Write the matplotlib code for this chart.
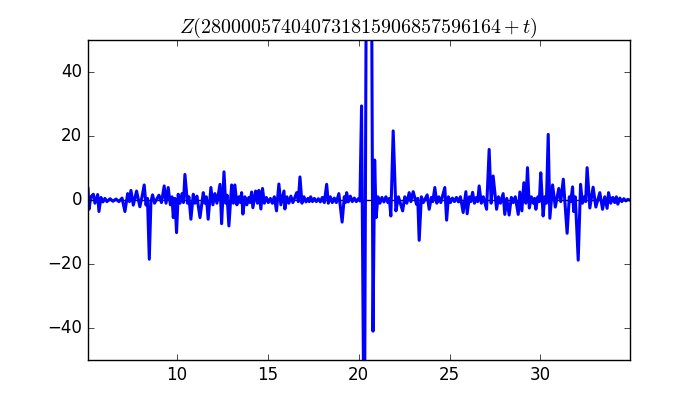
import matplotlib
matplotlib.use('Agg')
import matplotlib.pyplot as plt

plt.style.use('classic')

# Values (t, Z(T + t)), peaks and troughs in order
t_vals = [
    5.11, 5.16, 5.27, 5.40, 5.49, 5.64, 5.71, 5.82, 5.93, 6.04,
    6.15, 6.32, 6.48, 6.65, 6.81, 6.98, 7.14, 7.29, 7.39, 7.47,
    7.60, 7.78, 7.96, 8.08, 8.20, 8.30, 8.38, 8.48, 8.57, 8.66,
    8.77, 9.01, 9.15, 9.30, 9.40, 9.52, 9.64, 9.73, 9.80, 9.89,
    9.98, 10.07, 10.17, 10.28, 10.36, 10.44, 10.58, 10.66, 10.77, 10.90,
    10.99, 11.10, 11.27, 11.45, 11.54, 11.62, 11.72, 11.87, 11.98, 12.09,
    12.20, 12.37, 12.46, 12.59, 12.68, 12.76, 12.86, 13.01, 13.11, 13.19,
    13.30, 13.41, 13.49, 13.56, 13.63, 13.74, 13.85, 13.96, 14.03, 14.11,
    14.18, 14.33, 14.43, 14.51, 14.62, 14.71, 14.81, 14.92, 15.03, 15.14,
    15.25, 15.36, 15.48, 15.61, 15.72, 15.89, 15.94, 16.05, 16.16, 16.27,
    16.38, 16.59, 16.68, 16.77, 16.88, 16.99, 17.10, 17.21, 17.28, 17.36,
    17.46, 17.56, 17.67, 17.78, 17.89, 18.00, 18.11, 18.24, 18.33, 18.44,
    18.55, 18.66, 18.77, 18.91, 19.09, 19.21, 19.27, 19.34, 19.43, 19.54,
    19.65, 19.76, 19.87, 19.98, 20.07, 20.16, 20.31, 20.56, 20.79, 20.88,
    20.96, 21.06, 21.17, 21.28, 21.39, 21.50, 21.61, 21.69, 21.77, 21.90,
    22.05, 22.19, 22.42, 22.54, 22.65, 22.78, 22.87, 23.00, 23.19, 23.25,
    23.33, 23.45, 23.56, 23.77, 23.88, 24.00, 24.08, 24.19, 24.30, 24.41,
    24.52, 24.74, 24.84, 24.94, 25.05, 25.16, 25.27, 25.38, 25.49, 25.60,
    25.75, 25.90, 25.97, 26.09, 26.17, 26.27, 26.37, 26.48, 26.55, 26.63,
    26.75, 26.86, 27.04, 27.18, 27.29, 27.40, 27.59, 27.69, 27.80, 27.95,
    28.04, 28.15, 28.28, 28.40, 28.51, 28.62, 28.78, 28.87, 28.98, 29.09,
    29.20, 29.29, 29.39, 29.50, 29.61, 29.68, 29.75, 29.86, 29.94, 30.02,
    30.15, 30.24, 30.33, 30.43, 30.52, 30.67, 30.82, 31.01, 31.12, 31.26,
    31.47, 31.59, 31.67, 31.77, 31.83, 31.92, 32.08, 32.21, 32.31, 32.42,
    32.49, 32.57, 32.72, 32.90, 33.05, 33.27, 33.42, 33.54, 33.67, 33.75,
    33.87, 33.98, 34.09, 34.18, 34.26, 34.37, 34.48, 34.59, 34.70, 34.81,
    34.95,
]
z_vals = [
    3.5, -2.9, 1.0, 1.8, -1.0, 1.7, -3.6, 0.8, -0.6, 0.5,
    -0.5, 0.4, -0.4, 0.3, -0.5, 0.6, -3.6, 2.0, -0.5, 3.0,
    -1.6, 2.8, -2.1, 1.0, 4.7, -1.6, 0.5, -18.5, -0.5, 1.6,
    -1.0, 1.5, -0.8, 4.4, -1.0, 3.9, -1.5, 1.0, -5.5, 0.5,
    -10.2, 1.8, -1.0, 2.0, -0.8, 8.0, -1.0, 1.0, -6.0, 1.8,
    -1.0, 1.2, -5.5, 2.3, -1.0, 1.0, -6.0, 3.9, -1.5, 2.0,
    -1.0, 4.9, -7.4, 8.8, -1.0, 1.5, -8.1, 4.7, -1.0, 4.7,
    -1.5, 1.0, -0.8, 2.3, -4.4, 1.0, -1.5, 0.8, -0.8, 2.5,
    -2.4, 2.8, -1.0, 3.0, -2.8, 3.6, -1.0, 0.8, -0.8, 0.5,
    -1.0, 1.0, -3.4, 5.0, -1.5, 2.8, -2.8, 1.0, -1.0, 1.2,
    -0.8, 2.3, -0.5, 7.2, -1.0, 1.0, -0.6, 0.5, -0.5, 1.0,
    -0.5, 0.5, -0.5, 0.4, -0.6, 0.8, -0.8, 4.9, -1.0, 1.0,
    -0.8, 0.6, -0.8, 2.0, -6.9, 1.0, -0.8, 2.3, -0.6, 1.2,
    -0.5, 0.6, -0.5, 0.4, -0.3, 29.4, -90.0, 280.0, -41.0, 12.5,
    -5.5, 1.0, -1.0, 0.8, -0.6, 1.0, -0.8, 0.5, -5.0, 21.6,
    -3.4, 1.0, -3.4, 1.0, -1.0, 2.3, -0.5, 2.6, -1.4, 0.5,
    -12.6, 1.0, -0.8, 1.6, -2.9, 0.8, -0.5, 3.9, -1.0, 1.0,
    -0.8, 3.9, -6.3, 1.0, -0.8, 0.6, -0.5, 0.8, -0.6, 1.0,
    -3.9, 2.6, -4.3, 1.0, -0.5, 2.4, -1.0, 0.8, -0.5, 4.4,
    -1.0, 1.0, -2.9, 15.8, -1.0, 7.5, -2.9, 1.0, -1.0, 2.0,
    -4.5, 0.5, -4.7, 0.8, -0.8, 1.0, -4.5, 2.5, -3.4, 5.4,
    -1.0, 10.1, -2.5, 1.0, -1.0, 0.5, -2.9, 1.0, -0.5, 8.5,
    -5.0, 1.0, -1.0, 20.5, -5.7, 4.7, -2.2, 3.6, -0.5, 6.5,
    -10.4, 1.0, -0.5, 4.1, -3.6, 1.0, -18.8, 4.9, -1.0, 1.0,
    -0.5, 10.1, -2.5, 4.0, -2.2, 2.3, -2.9, 1.0, -2.6, 2.3,
    -1.0, 0.8, -0.8, 1.0, -1.3, 0.6, -0.5, 0.4, -0.3, 0.2,
    -0.1,
]

title = r'$Z(280000574040731815906857596164+t)$'

fig = plt.figure(figsize=(7, 4), dpi=100, facecolor='white')
ax = fig.add_subplot(111)

# zero line sits under the curve
ax.axhline(0, color='k', linewidth=1, zorder=1)
ax.plot(t_vals, z_vals, color='b', linewidth=2.2, zorder=2)

ax.set_xlim(5.08, 34.93)
ax.set_ylim(-50, 50)
ax.set_title(title)

fig.savefig('out.png', dpi=100, facecolor='white')
